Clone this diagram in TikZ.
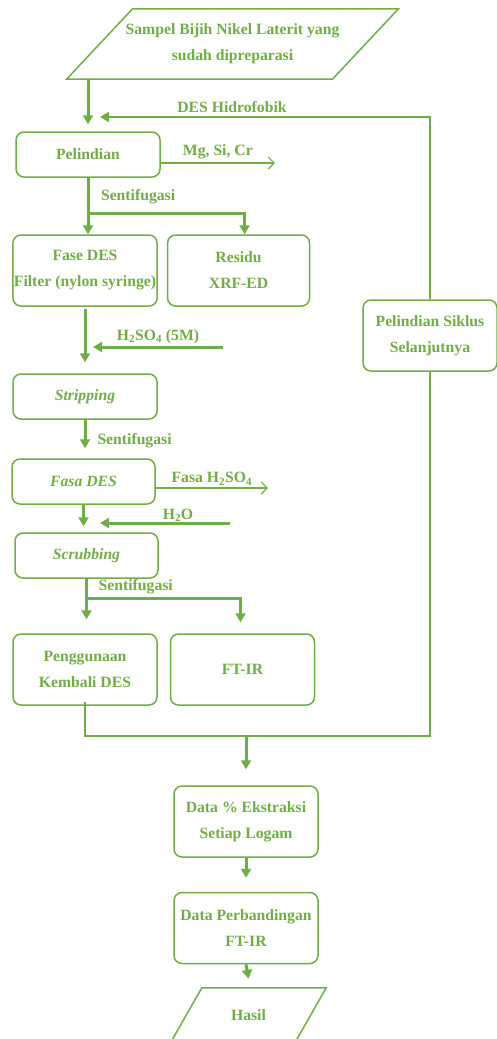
\documentclass[tikz,border=0pt]{standalone}
\usepackage{fontspec}
\setmainfont{Liberation Serif}
\usepackage{tikz}
\usetikzlibrary{
  arrows.meta,
  positioning
}
\definecolor{LeafGreen}{RGB}{112,173,71}
\newcommand{\boxfont}{\fontsize{15.7}{26}\selectfont\bfseries}
\tikzset{
  procnode/.style={draw=LeafGreen,line width=1.5pt,rounded corners=8pt,minimum height=45pt,minimum width=144pt,inner sep=1pt,align=center,text=LeafGreen,font=\boxfont},
  tallnode/.style={procnode,minimum height=71pt},
  ionode/.style={inner sep=1pt,align=center,text=LeafGreen,font=\boxfont},
  ioedge/.style={draw=LeafGreen,line width=1.5pt,line join=miter},
  mainflow/.style={-{Triangle[length=9pt,width=10pt]},line width=3pt,draw=LeafGreen},
  loopflow/.style={-{Triangle[length=9pt,width=10pt]},line width=2pt,draw=LeafGreen},
  sideout/.style={-{Straight Barb[length=6pt,width=12pt,line width=1.2pt]},line width=1.5pt,draw=LeafGreen},
  joinline/.style={line width=1.5pt,draw=LeafGreen},
  flowlabel/.style={text=LeafGreen,font=\boxfont,inner sep=0pt}
}

\begin{document}
\begin{tikzpicture}[x=1pt,y=-1pt]
\useasboundingbox (0,0) rectangle (496,1039);

\node[ionode,minimum width=265.5pt,minimum height=70pt] (sampel) at (232.5,44) {Sampel Bijih Nikel Laterit yang\\sudah dipreparasi};
\node[procnode] (pelindian) at (88,154.5) {Pelindian};
\node[tallnode] (fasedes) at (85,270.5) {Fase DES\\Filter (nylon syringe)};
\node[tallnode, minimum width=142pt, right=9pt of fasedes] (residu) {Residu\\XRF-ED};
\node[procnode] (stripping) at (85,396.5) {\itshape Stripping};
\node[procnode, minimum width=143pt] (fasades) at (83.5,481.5) {\itshape Fasa DES};
\node[procnode, minimum width=143pt] (scrubbing) at (86.5,555.5) {\itshape Scrubbing};
\node[tallnode] (peng) at (85,669.5) {Penggunaan\\Kembali DES};
\node[tallnode, right=12pt of peng] (ftir) {FT-IR};
\node[tallnode, minimum width=134pt] (siklus) at (430,335.5) {Pelindian Siklus\\Selanjutnya};
\node[tallnode] (ekstr) at (246,821.5) {Data \% Ekstraksi\\Setiap Logam};
\node[tallnode, below=34pt of ekstr] (banding) {Data Perbandingan\\FT-IR};
\node[ionode,minimum width=124pt,minimum height=54pt] (hasil) at (248.5,1015) {Hasil};

\draw[ioedge] ([xshift=33pt]sampel.north west) -- ([xshift=33pt]sampel.north east)
  -- ([xshift=-33pt]sampel.south east) -- ([xshift=-33pt]sampel.south west) -- cycle;
\draw[ioedge] ([xshift=15.5pt]hasil.north west) -- ([xshift=15.5pt]hasil.north east)
  -- ([xshift=-15.5pt]hasil.south east) -- ([xshift=-15.5pt]hasil.south west) -- cycle;

\coordinate (hidroend) at (100,117);
\coordinate (mgout) at (275,163);
\coordinate (asamin) at (223,347);
\coordinate (asamend) at (93,347);
\coordinate (fasaout) at (268,488);
\coordinate (airin) at (230,523);
\coordinate (airend) at (100,523);
\path (pelindian.south) ++(0,36) coordinate (split1);
\path (scrubbing.south) ++(0,20) coordinate (split2);
\path (peng.south) ++(0,30) coordinate (mergeL);

\draw[mainflow] (sampel.south -| pelindian.north) -- ([yshift=7pt]pelindian.north);
\draw[loopflow] (siklus.north) |- node[flowlabel,pos=0.8,above=3pt]{DES Hidrofobik} (hidroend);
\draw[sideout] ([yshift=-8.5pt]pelindian.east) -- node[flowlabel,above=3pt]{Mg, Si, Cr} (mgout);
\draw[mainflow] (pelindian.south) -- (pelindian.south |- fasedes.north);
\draw[mainflow] (split1) -| node[flowlabel,pos=0.16,above=8pt]{Sentifugasi} ([xshift=6pt]residu.north);
\draw[mainflow] ([yshift=-2pt]fasedes.south) -- ([yshift=11pt]stripping.north);
\draw[mainflow] (asamin) -- node[flowlabel,above=2pt]{H\textsubscript{2}SO\textsubscript{4} (5M)} (asamend);
\draw[mainflow] (stripping.south) -- node[flowlabel,pos=0.73,anchor=west,xshift=11pt]{Sentifugasi} ([yshift=10pt]stripping.south |- fasades.north);
\draw[sideout] ([yshift=-6.5pt]fasades.east) -- node[flowlabel,above=2pt]{Fasa H\textsubscript{2}SO\textsubscript{4}} (fasaout);
\draw[mainflow] (fasades.south) -- ([yshift=6pt]fasades.south |- scrubbing.north);
\draw[mainflow] (airin) -- node[flowlabel,pos=0.4,above=0pt]{H\textsubscript{2}O} (airend);
\draw[mainflow] (scrubbing.south) -- ([yshift=14pt]scrubbing.south |- peng.north);
\draw[mainflow] (split2) -| node[flowlabel,pos=0.16,above=3pt]{Sentifugasi} ([xshift=-2pt,yshift=11pt]ftir.north);
\draw[joinline] ([yshift=4pt]peng.south) -- (mergeL) -| (siklus.south);
\draw[mainflow] (mergeL -| ekstr.north) -- ([yshift=16pt]ekstr.north);
\draw[mainflow] (ekstr.south) -- ([yshift=14pt]banding.north);
\draw[mainflow] (banding.south) -- ([yshift=9pt]hasil.north);
\end{tikzpicture}
\end{document}
